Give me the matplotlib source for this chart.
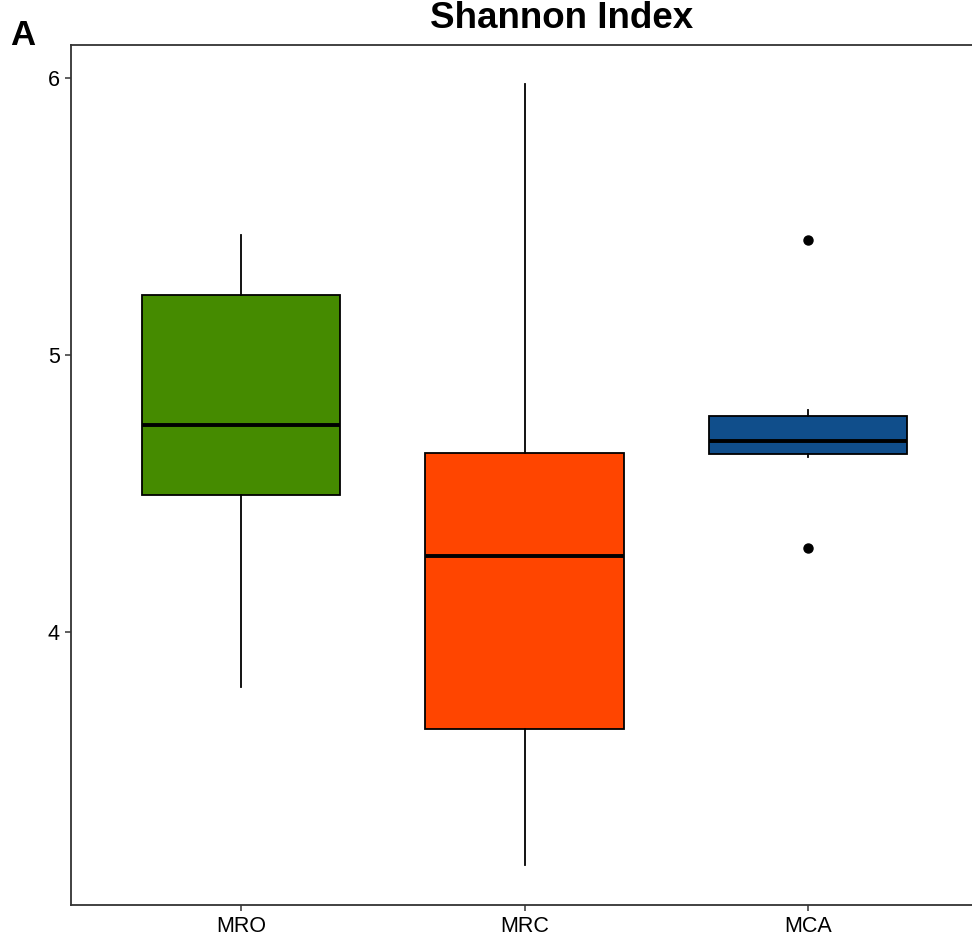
import matplotlib
matplotlib.use("Agg")
import matplotlib.pyplot as plt

plt.rcParams['font.family'] = ['Liberation Sans', 'DejaVu Sans']

groups = ['MRO', 'MRC', 'MCA']
colors = ['#458B00', '#FF4500', '#104E8B']
whislo = [3.80, 3.16, 4.632]
q1 = [4.495, 3.650, 4.643]
med = [4.747, 4.274, 4.690]
q3 = [5.217, 4.646, 4.780]
whishi = [5.433, 5.978, 4.801]
fliers = [[], [], [5.415, 4.303]]

stats = []
for i, g in enumerate(groups):
    stats.append(dict(label=g, whislo=whislo[i], q1=q1[i], med=med[i],
                      q3=q3[i], whishi=whishi[i], fliers=fliers[i]))

fig = plt.figure(figsize=(9.72, 9.38), dpi=100)
ax = fig.add_axes([71 / 972, 1 - 905 / 938, (978 - 71) / 972, (905 - 45) / 938])

bp = ax.bxp(stats, positions=[1, 2, 3], widths=0.7, patch_artist=True,
            showcaps=False,
            boxprops=dict(edgecolor='black', linewidth=1.3),
            medianprops=dict(color='black', linewidth=2.8),
            whiskerprops=dict(color='black', linewidth=1.3),
            flierprops=dict(marker='o', markerfacecolor='black',
                            markeredgecolor='black', markersize=6.5))
for patch, c in zip(bp['boxes'], colors):
    patch.set_facecolor(c)

ax.set_xlim(0.4, 3.6)
ax.set_ylim(3.014, 6.119)
ax.set_yticks([4, 5, 6])
ax.set_yticklabels(['4', '5', '6'])
ax.set_xticks([1, 2, 3])
ax.set_xticklabels(groups)
ax.tick_params(axis='both', labelsize=15.5, length=4, width=1.1,
               color='#333333', labelcolor='black', pad=4)
for s in ax.spines.values():
    s.set_color('#333333')
    s.set_linewidth(1.3)
ax.spines['right'].set_visible(False)

fig.text(562 / 972, 1 - 28 / 938, 'Shannon Index', ha='center', va='baseline',
         fontsize=26.5, fontweight='bold')
fig.text(10 / 972, 1 - 45 / 938, 'A', ha='left', va='baseline',
         fontsize=25, fontweight='bold')

fig.savefig('out.png', dpi=100)
